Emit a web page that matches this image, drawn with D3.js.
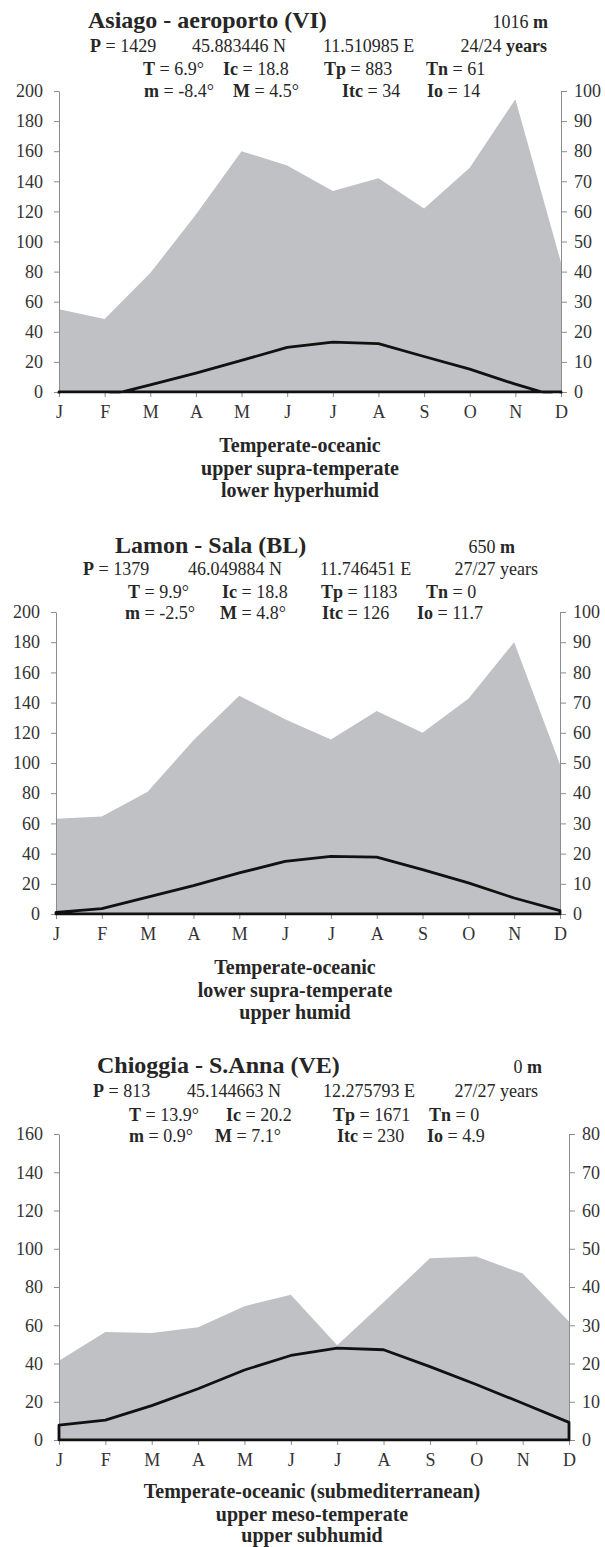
<!DOCTYPE html>
<html>
<head>
<meta charset="utf-8">
<script src="https://cdn.jsdelivr.net/npm/d3@7"></script>
<style>
  body { margin: 0; background: #fff; }
  svg { display: block; }
  svg text { font-family: "Liberation Serif", "DejaVu Serif", "Times New Roman", serif; }
</style>
</head>
<body>
<div id="chart"></div>
<script>
// month labels (x axis)
const months = ["J", "F", "M", "A", "M", "J", "J", "A", "S", "O", "N", "D"];

// Asiago - aeroporto: monthly precipitation (mm) and mean temperature (°C)
const asiagoPrec = [55, 48.5, 79, 118, 160, 150.5, 133.5, 142, 122, 149, 194.5, 86];
const asiagoTemp = [-3.0, -1.45, 2.4, 6.3, 10.5, 14.8, 16.6, 16.1, 11.8, 7.6, 2.6, -1.9];

// Lamon - Sala
const lamonPrec = [63, 64.5, 81, 115, 144.5, 129, 115.5, 134.5, 120, 142.5, 180, 99];
const lamonTemp = [0.55, 1.8, 5.6, 9.4, 13.6, 17.4, 19.1, 18.8, 14.7, 10.3, 5.3, 1.1];

// Chioggia - S.Anna
const chioggiaPrec = [41.5, 56.5, 56, 59, 70, 76, 49.5, 72, 95, 96, 87, 62];
const chioggiaTemp = [3.9, 5.2, 9.0, 13.4, 18.3, 22.1, 24.0, 23.6, 19.2, 14.5, 9.6, 4.6];

// header texts (** marks bold)
const asiagoHead = ["**Asiago - aeroporto (VI)**", "1016 **m**"];
const asiagoLine2 = ["**P** = 1429", "45.883446 N", "11.510985 E", "24/24 **years**"];
const asiagoLine3 = ["**T** = 6.9°", "**Ic** = 18.8", "**Tp** = 883", "**Tn** = 61"];
const asiagoLine4 = ["**m** = -8.4°", "**M** = 4.5°", "**Itc** = 34", "**Io** = 14"];
const asiagoClimate = ["Temperate-oceanic", "upper supra-temperate", "lower hyperhumid"];

const lamonHead = ["**Lamon - Sala (BL)**", "650 **m**"];
const lamonLine2 = ["**P** = 1379", "46.049884 N", "11.746451 E", "27/27 years"];
const lamonLine3 = ["**T** = 9.9°", "**Ic** = 18.8", "**Tp** = 1183", "**Tn** = 0"];
const lamonLine4 = ["**m** = -2.5°", "**M** = 4.8°", "**Itc** = 126", "**Io** = 11.7"];
const lamonClimate = ["Temperate-oceanic", "lower supra-temperate", "upper humid"];

const chioggiaHead = ["**Chioggia - S.Anna (VE)**", "0 **m**"];
const chioggiaLine2 = ["**P** = 813", "45.144663 N", "12.275793 E", "27/27 years"];
const chioggiaLine3 = ["**T** = 13.9°", "**Ic** = 20.2", "**Tp** = 1671", "**Tn** = 0"];
const chioggiaLine4 = ["**m** = 0.9°", "**M** = 7.1°", "**Itc** = 230", "**Io** = 4.9"];
const chioggiaClimate = ["Temperate-oceanic (submediterranean)", "upper meso-temperate", "upper subhumid"];

const W = 605, H = 1547;
const fontFamily = "'Liberation Serif', 'DejaVu Serif', 'Times New Roman', serif";
const textColor = "#262626";
const axisColor = "#8c8c8c";
const areaColor = "#c0c1c5";

const svg = d3.select("#chart").append("svg")
    .attr("width", W)
    .attr("height", H)
    .attr("font-family", fontFamily);

// write a string with **bold** parts as tspans
function richText(g, str, x, y, size, anchor) {
    const t = g.append("text")
        .attr("x", x)
        .attr("y", y)
        .attr("font-family", fontFamily)
        .attr("font-size", size)
        .attr("text-anchor", anchor || "start")
        .attr("fill", textColor);
    str.split("**").forEach((part, i) => {
        if (part === "") return;
        t.append("tspan")
            .attr("font-weight", i % 2 ? "bold" : "normal")
            .text(part);
    });
    return t;
}

function drawPanel(cfg, idx) {
    const g = svg.append("g");

    // header
    richText(g, cfg.head[0], cfg.titleX, cfg.titleY, 24);
    richText(g, cfg.head[1], cfg.altX, cfg.titleY, 18, "end");
    cfg.line2.forEach((s, i) => {
        const last = i === cfg.line2.length - 1;
        richText(g, s, cfg.pos2[i], cfg.lineY[0], 18, last ? "end" : "start");
    });
    cfg.line3.forEach((s, i) => richText(g, s, cfg.pos3[i], cfg.lineY[1], 18));
    cfg.line4.forEach((s, i) => richText(g, s, cfg.pos4[i], cfg.lineY[2], 18));

    const x = d3.scaleLinear().domain([0, months.length - 1]).range([cfg.x0, cfg.x1]);
    const yP = d3.scaleLinear().domain([0, cfg.pMax]).range([cfg.yBot, cfg.yTop]);
    const yT = d3.scaleLinear().domain([0, cfg.pMax / 2]).range([cfg.yBot, cfg.yTop]);

    // precipitation area
    const precArea = d3.area()
        .x((d, i) => x(i))
        .y0(yP(0))
        .y1(d => yP(d));

    g.append("path")
        .datum(cfg.prec)
        .attr("d", precArea)
        .attr("fill", areaColor);

    // axes
    const yAxisL = d3.axisLeft(yP)
        .tickValues(d3.range(0, cfg.pMax + 1, 20))
        .tickSize(5).tickSizeOuter(0).tickPadding(11);
    const yAxisR = d3.axisRight(yT)
        .tickValues(d3.range(0, cfg.pMax / 2 + 1, 10))
        .tickSize(6).tickSizeOuter(0).tickPadding(7);
    const xAxis = d3.axisBottom(x)
        .tickValues(d3.range(months.length))
        .tickFormat(i => months[i])
        .tickSize(5).tickSizeOuter(0).tickPadding(8);

    const gl = g.append("g")
        .attr("transform", "translate(" + cfg.x0 + ",0)")
        .call(yAxisL);
    const gr = g.append("g")
        .attr("transform", "translate(" + cfg.x1 + ",0)")
        .call(yAxisR);
    const gx = g.append("g")
        .attr("transform", "translate(0," + cfg.yBot + ")")
        .call(xAxis);
    gx.select(".domain").remove();

    [gl, gr, gx].forEach(a => {
        a.attr("font-family", fontFamily).attr("font-size", null);
        a.selectAll(".domain, .tick line").attr("stroke", axisColor).attr("stroke-width", 1);
        a.selectAll("text")
            .attr("font-family", fontFamily)
            .attr("font-size", 18)
            .attr("fill", "#333");
    });

    // temperature curve, closed down to the zero line
    const clipId = "clip" + idx;
    g.append("clipPath").attr("id", clipId)
        .append("rect")
        .attr("x", cfg.x0 - 3)
        .attr("y", cfg.yTop - 5)
        .attr("width", cfg.x1 - cfg.x0 + 6)
        .attr("height", cfg.yBot - cfg.yTop + 6.4);

    const tempArea = d3.area()
        .x((d, i) => x(i))
        .y0(yT(0))
        .y1(d => yT(d));

    g.append("path")
        .datum(cfg.temp)
        .attr("d", tempArea)
        .attr("clip-path", "url(#" + clipId + ")")
        .attr("fill", "none")
        .attr("stroke", "#111")
        .attr("stroke-width", 2.8)
        .attr("stroke-linejoin", "round");

    // climate classification
    cfg.climate.forEach((s, i) => {
        g.append("text")
            .attr("x", cfg.climateX)
            .attr("y", cfg.yBot + cfg.climateDy[i])
            .attr("text-anchor", "middle")
            .attr("font-family", fontFamily)
            .attr("font-size", 20)
            .attr("font-weight", "bold")
            .attr("fill", textColor)
            .text(s);
    });
}

const panels = [
    {
        head: asiagoHead, line2: asiagoLine2, line3: asiagoLine3, line4: asiagoLine4,
        prec: asiagoPrec, temp: asiagoTemp, climate: asiagoClimate, pMax: 200,
        titleX: 88, altX: 548, titleY: 28, lineY: [52, 75, 97],
        pos2: [90, 192, 323, 547], pos3: [143, 223, 324, 426], pos4: [144, 233, 342, 427],
        x0: 59, x1: 561, yTop: 91, yBot: 392, climateX: 300, climateDy: [60, 83, 105]
    },
    {
        head: lamonHead, line2: lamonLine2, line3: lamonLine3, line4: lamonLine4,
        prec: lamonPrec, temp: lamonTemp, climate: lamonClimate, pMax: 200,
        titleX: 115, altX: 515, titleY: 553, lineY: [575, 598, 619],
        pos2: [83, 188, 320, 538], pos3: [128, 222, 321, 426], pos4: [125, 220, 322, 417],
        x0: 56, x1: 560, yTop: 612, yBot: 914, climateX: 295, climateDy: [60, 83, 105]
    },
    {
        head: chioggiaHead, line2: chioggiaLine2, line3: chioggiaLine3, line4: chioggiaLine4,
        prec: chioggiaPrec, temp: chioggiaTemp, climate: chioggiaClimate, pMax: 160,
        titleX: 97, altX: 542, titleY: 1073, lineY: [1097, 1121, 1142],
        pos2: [93, 187, 323, 538], pos3: [129, 226, 333, 429], pos4: [129, 215, 337, 427],
        x0: 59, x1: 569, yTop: 1134, yBot: 1440, climateX: 312, climateDy: [58, 81, 102]
    }
];

panels.forEach(drawPanel);
</script>
</body>
</html>
